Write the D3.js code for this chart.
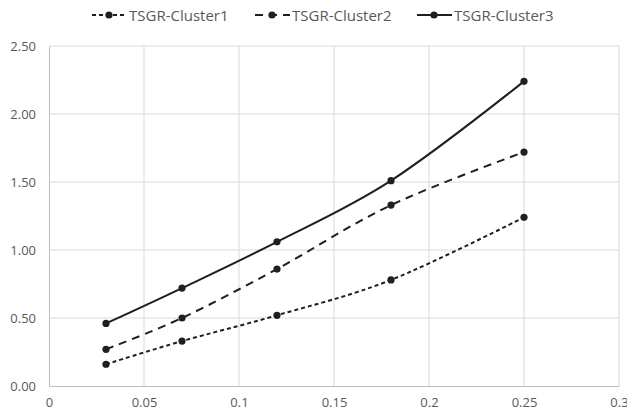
<!DOCTYPE html>
<html>
<head>
<meta charset="utf-8">
<script src="https://cdn.jsdelivr.net/npm/d3@7"></script>
<style>
  html, body { margin: 0; padding: 0; background: #fff; }
  svg { display: block; font-family: "Open Sans", Lato, sans-serif; }
</style>
</head>
<body>
<svg id="chart" width="627" height="414"></svg>
<script>
// Growth ratio sampled at five x positions for each cluster
const xValues = [0.03, 0.07, 0.12, 0.18, 0.25];
const cluster1 = [0.16, 0.33, 0.52, 0.78, 1.24];
const cluster2 = [0.27, 0.50, 0.86, 1.33, 1.72];
const cluster3 = [0.46, 0.72, 1.06, 1.51, 2.24];
const seriesNames = ["TSGR-Cluster1", "TSGR-Cluster2", "TSGR-Cluster3"];
const xTicks = [0, 0.05, 0.1, 0.15, 0.2, 0.25, 0.3];
const yTicks = [0, 0.5, 1, 1.5, 2, 2.5];

const series = [
  { name: seriesNames[0], values: cluster1, dash: "4,3" },
  { name: seriesNames[1], values: cluster2, dash: "8,6" },
  { name: seriesNames[2], values: cluster3, dash: null }
];

const svg = d3.select("#chart");
const margin = { left: 49, right: 8, top: 46, bottom: 28 };
const W = 627, H = 414;

const x = d3.scaleLinear().domain([0, 0.3]).range([margin.left, W - margin.right]);
const y = d3.scaleLinear().domain([0, 2.5]).range([H - margin.bottom, margin.top]);

const ink = "#1f1f1f";
const labelColor = "#595959";
const font = "'Open Sans', Lato, sans-serif";

// gridlines
svg.append("g")
  .selectAll("line")
  .data(yTicks.slice(1))
  .join("line")
  .attr("x1", x(0)).attr("x2", x(0.3))
  .attr("y1", d => y(d)).attr("y2", d => y(d))
  .attr("stroke", "#d9d9d9").attr("stroke-width", 1);

svg.append("g")
  .selectAll("line")
  .data(xTicks.slice(1))
  .join("line")
  .attr("x1", d => x(d)).attr("x2", d => x(d))
  .attr("y1", y(0)).attr("y2", y(2.5))
  .attr("stroke", "#d9d9d9").attr("stroke-width", 1);

// axes
const xAxis = svg.append("g")
  .attr("transform", `translate(0,${y(0)})`)
  .call(d3.axisBottom(x).tickValues(xTicks).tickSize(0).tickPadding(12)
    .tickFormat(d => d === 0 ? "0" : String(d)));
const yAxis = svg.append("g")
  .attr("transform", `translate(${x(0)},0)`)
  .call(d3.axisLeft(y).tickValues(yTicks).tickSize(0).tickPadding(13)
    .tickFormat(d3.format(".2f")));

[xAxis, yAxis].forEach(g => {
  g.select(".domain").attr("stroke", "#bfbfbf").attr("stroke-width", 1);
  g.selectAll("text").attr("fill", labelColor).attr("font-size", 13)
    .attr("font-family", font);
});

// series lines
const line = d3.line()
  .x((d, i) => x(xValues[i]))
  .y(d => y(d))
  .curve(d3.curveCatmullRom.alpha(0));

series.forEach(s => {
  svg.append("path")
    .attr("d", line(s.values))
    .attr("fill", "none")
    .attr("stroke", ink)
    .attr("stroke-width", 2)
    .attr("stroke-dasharray", s.dash);
  svg.append("g")
    .selectAll("circle")
    .data(s.values)
    .join("circle")
    .attr("cx", (d, i) => x(xValues[i]))
    .attr("cy", d => y(d))
    .attr("r", 3.6)
    .attr("fill", ink);
});

// legend
const legendX = [92, 255, 417];
const legend = svg.append("g").attr("transform", "translate(0,15)");
series.forEach((s, i) => {
  const g = legend.append("g").attr("transform", `translate(${legendX[i]},0)`);
  g.append("line")
    .attr("x1", 0).attr("x2", 35).attr("y1", 0).attr("y2", 0)
    .attr("stroke", ink).attr("stroke-width", 2)
    .attr("stroke-dasharray", s.dash);
  g.append("circle").attr("cx", 17).attr("cy", 0).attr("r", 3.6).attr("fill", ink);
  g.append("text")
    .attr("x", 37).attr("y", 1).attr("dy", "0.35em")
    .attr("fill", labelColor).attr("font-size", 15)
    .attr("font-family", font)
    .text(s.name);
});
</script>
</body>
</html>
